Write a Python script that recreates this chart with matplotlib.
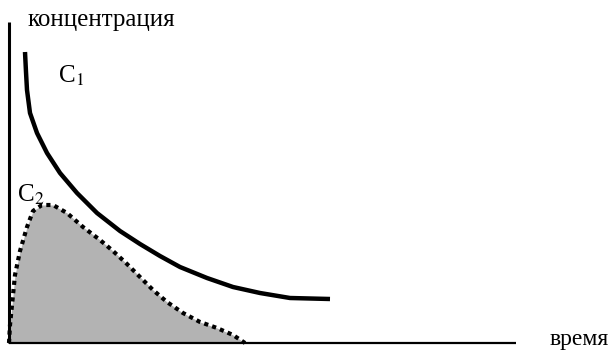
import matplotlib
matplotlib.use("Agg")
import matplotlib.pyplot as plt

plt.rcParams["font.family"] = ["Liberation Serif", "DejaVu Serif"]
plt.rcParams["mathtext.fontset"] = "stix"

# curve C1 (pixel-like units, y grows downward)
c1_t = [25, 26, 27, 30, 37, 47, 60, 77, 97, 120, 140, 160, 180, 207, 233, 260, 290, 330]
c1_c = [52, 72, 90, 113, 133, 153, 173, 193, 213, 231, 244, 256, 267, 278, 287, 293, 298, 299]

# curve C2
c2_t = [9, 10, 12, 15, 20, 27, 33, 42, 53, 67, 83, 100, 113, 127, 140, 153, 167, 183, 200, 217, 233, 245]
c2_c = [343, 325, 305, 275, 251, 227, 211, 205, 205, 213, 227, 240, 251, 264, 277, 290, 302, 313, 322, 328, 335, 343]

baseline_y = 343

fig = plt.figure(figsize=(6.11, 3.51), dpi=100)
ax = fig.add_axes([0, 0, 1, 1])
ax.set_xlim(0, 611)
ax.set_ylim(351, 0)
ax.axis("off")

# axes
ax.plot([9, 9], [22, baseline_y], color="black", lw=2.2, solid_capstyle="butt")
ax.plot([9, 516], [baseline_y, baseline_y], color="black", lw=1.6, solid_capstyle="butt")

ax.fill_between(c2_t, c2_c, baseline_y, color="#b3b3b3", lw=0)
ax.plot(c2_t, c2_c, color="black", lw=3.0, linestyle=(0, (1, 1)),
        dash_capstyle="butt", dash_joinstyle="round")

ax.plot(c1_t, c1_c, color="black", lw=3.2, solid_capstyle="butt", solid_joinstyle="round")

ax.text(28, 26, "концентрация", fontsize=18, ha="left", va="baseline")
ax.text(609, 345, "время", fontsize=17, ha="right", va="baseline")
ax.text(58, 83, "C$_1$", fontsize=18, ha="left", va="baseline")
ax.text(17, 202, "C$_2$", fontsize=18, ha="left", va="baseline")

fig.savefig("out.png", dpi=100)
